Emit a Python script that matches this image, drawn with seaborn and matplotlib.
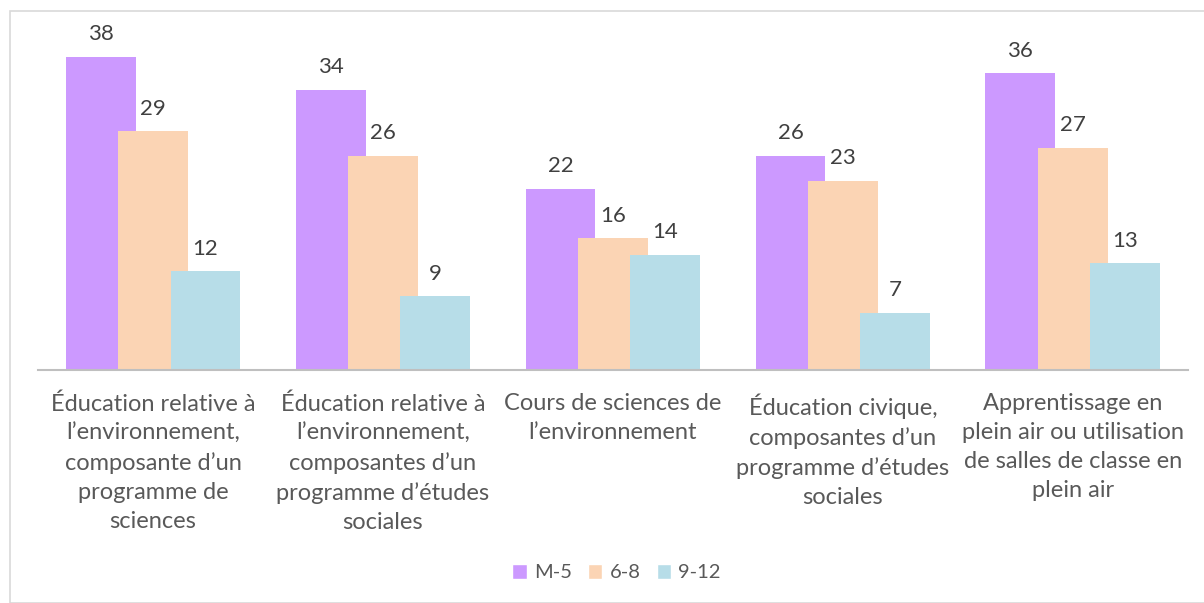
import matplotlib
matplotlib.use("Agg")
import matplotlib.pyplot as plt
import seaborn as sns
import pandas as pd
from matplotlib.patches import Rectangle

categories = [
    "Éducation relative à\nl’environnement,\ncomposante d’un\nprogramme de\nsciences",
    "Éducation relative à\nl’environnement,\ncomposantes d’un\nprogramme d’études\nsociales",
    "Cours de sciences de\nl’environnement",
    "Éducation civique,\ncomposantes d’un\nprogramme d’études\nsociales",
    "Apprentissage en\nplein air ou utilisation\nde salles de classe en\nplein air",
]
series_names = ["M-5", "6-8", "9-12"]
m5 = [38, 34, 22, 26, 36]
g68 = [29, 26, 16, 23, 27]
g912 = [12, 9, 14, 7, 13]
colors = ["#CC99FF", "#FBD4B4", "#B7DDE8"]

rows = []
for name, vals in zip(series_names, [m5, g68, g912]):
    for c, v in zip(categories, vals):
        rows.append({"cat": c, "grade": name, "val": v})
df = pd.DataFrame(rows)

sns.set_theme(style="white")
plt.rcParams["font.family"] = ["Lato", "DejaVu Sans"]
txt = "#595959"

fig = plt.figure(figsize=(12.04, 6.03), dpi=100)
ax = fig.add_axes([0.0316, 0.386, 0.955, 0.547])

sns.barplot(data=df, x="cat", y="val", hue="grade", palette=colors,
            width=0.684, dodge=True, ax=ax, saturation=1, legend=True,
            errorbar=None)

bw = 0.304
for p in ax.patches:
    if p.get_height() == 0 and p.get_width() == 0:
        continue
    cx = p.get_x() + p.get_width() / 2
    p.set_width(bw)
    p.set_x(cx - bw / 2)
    p.set_edgecolor("none")

for cont in ax.containers:
    for p in cont:
        h = p.get_height()
        ax.annotate(f"{h:.0f}", (p.get_x() + p.get_width() / 2, h),
                    xytext=(0, 9), textcoords="offset points",
                    ha="center", va="bottom", fontsize=16, color="#404040")

ax.set_xlim(-0.5, 4.5)
ax.set_ylim(0, 40)
ax.set_yticks([])
ax.set_xlabel("")
ax.set_ylabel("")
for s in ["top", "right", "left"]:
    ax.spines[s].set_visible(False)
ax.spines["bottom"].set_color("#BFBFBF")
ax.spines["bottom"].set_linewidth(1.5)
ax.tick_params(axis="x", length=0, pad=16.5)
for lbl in ax.get_xticklabels():
    lbl.set_fontsize(17)
    lbl.set_color(txt)
    lbl.set_linespacing(1.47)
    lbl.set_va("top")

leg = ax.legend(loc="center", ncol=3, frameon=False, fontsize=14.5,
                handlelength=0.72, handleheight=0.72,
                handletextpad=0.35, columnspacing=0.8, labelcolor=txt)
leg.set_bbox_to_anchor((0.512, 0.05), transform=fig.transFigure)

fig.patches.append(Rectangle((10 / 1204, 0), 1.0, 1 - 11 / 603, transform=fig.transFigure,
                             fill=False, edgecolor="#D9D9D9", linewidth=1.2))

fig.savefig("out.png", dpi=100)
